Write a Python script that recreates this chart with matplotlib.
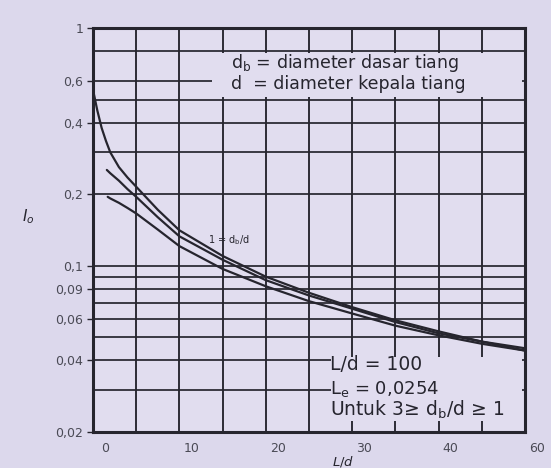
import matplotlib
matplotlib.use("Agg")
import matplotlib.pyplot as plt
from matplotlib.patches import Rectangle
from matplotlib.transforms import ScaledTranslation

# ---- data ----
curve_a_x = [0, 0.5, 1, 1.5, 2, 3, 4, 5, 7.5, 10, 15, 20, 25, 30, 35, 40, 45, 50]
curve_a_y = [0.55, 0.45, 0.38, 0.335, 0.30, 0.26, 0.235, 0.215, 0.172, 0.141, 0.110,
             0.090, 0.077, 0.067, 0.059, 0.053, 0.048, 0.044]
curve_b_x = [1.6, 2, 3, 4, 5, 7.5, 10, 15, 20, 25, 30, 35, 40, 45, 50]
curve_b_y = [0.253, 0.245, 0.228, 0.21, 0.195, 0.16, 0.133, 0.106, 0.087, 0.075,
             0.066, 0.058, 0.052, 0.048, 0.045]
curve_c_x = [1.7, 2, 3, 4, 5, 7.5, 10, 15, 20, 25, 30, 35, 40, 45, 50]
curve_c_y = [0.195, 0.192, 0.184, 0.175, 0.166, 0.142, 0.121, 0.097, 0.082, 0.071,
             0.063, 0.056, 0.051, 0.047, 0.044]

x_ticks = [0, 10, 20, 30, 40, 50]
x_tick_labels = ["0", "10", "20", "30", "40", "60"]
y_ticks = [1, 0.6, 0.4, 0.2, 0.1, 0.08, 0.06, 0.04, 0.02]
y_tick_labels = ["1", "0,6", "0,4", "0,2", "0,1", "0,09", "0,06", "0,04", "0,02"]
grid_y = [0.8, 0.6, 0.5, 0.4, 0.3, 0.2, 0.1, 0.09, 0.08, 0.07, 0.06, 0.05, 0.04, 0.03]
grid_x = [5, 10, 15, 20, 25, 30, 35, 40, 45]

legend_lines = [r"$\mathregular{d_b}$ = diameter dasar tiang",
                "d  = diameter kepala tiang"]
note_lines = ["L/d = 100", r"$\mathregular{L_e}$ = 0,0254",
              r"Untuk 3≥ $\mathregular{d_b}$/d ≥ 1"]
curve_label = r"1 = $\mathregular{d_b}$/d"

bg_fig = "#dcd8ec"
bg_ax = "#e1ddef"
ink = "#26252e"

fig = plt.figure(figsize=(5.51, 4.68), dpi=100, facecolor=bg_fig)
ax = fig.add_axes([93 / 551, 1 - 432 / 468, 432 / 551, 404 / 468])
ax.set_facecolor(bg_ax)
ax.set_yscale("log")
ax.set_xlim(0, 50)
ax.set_ylim(0.02, 1)

for gy in grid_y:
    ax.axhline(gy, color=ink, lw=1.25, zorder=1)
for gx in grid_x:
    ax.axvline(gx, color=ink, lw=1.35, zorder=1)

# blank panels behind the annotations
ax.add_patch(Rectangle((13.8, 0.515), 35.9, 0.27, facecolor=bg_ax,
                       edgecolor="none", zorder=2))
ax.add_patch(Rectangle((27.6, 0.0222), 22.1, 0.0193, facecolor=bg_ax,
                       edgecolor="none", zorder=2))

for xs, ys in [(curve_a_x, curve_a_y), (curve_b_x, curve_b_y), (curve_c_x, curve_c_y)]:
    ax.plot(xs, ys, color=ink, lw=1.6, zorder=4, solid_capstyle="round",
            solid_joinstyle="round")

ax.text(16.0, 0.715, legend_lines[0], fontsize=12.5, color=ink, va="center", zorder=3)
ax.text(16.0, 0.58, legend_lines[1], fontsize=12.5, color=ink, va="center", zorder=3)

ax.text(27.4, 0.0385, note_lines[0], fontsize=13.5, color=ink, va="center", zorder=3)
ax.text(27.4, 0.0302, note_lines[1], fontsize=13, color=ink, va="center", zorder=3)
ax.text(27.4, 0.0247, note_lines[2], fontsize=13.5, color=ink, va="center", zorder=3)

ax.text(13.3, 0.128, curve_label, fontsize=7, color=ink, va="center", zorder=3)

ax.set_xticks(x_ticks)
ax.set_xticklabels(x_tick_labels)
ax.set_yticks(y_ticks)
ax.set_yticklabels(y_tick_labels)
ax.minorticks_off()
ax.tick_params(axis="x", length=0, pad=7, labelsize=9, labelcolor="#4a4a55")
ax.tick_params(axis="y", length=4, width=1, pad=3, labelsize=9, labelcolor="#4a4a55",
               color=ink)
for lab in ax.get_xticklabels():
    lab.set_transform(lab.get_transform() + ScaledTranslation(0.12, 0, fig.dpi_scale_trans))

for sp in ax.spines.values():
    sp.set_linewidth(2.2)
    sp.set_color(ink)
    sp.set_zorder(5)

ax.set_ylabel(r"$I_o$", rotation=0, fontsize=11, color=ink)
ax.yaxis.set_label_coords(-0.15, 0.51)
ax.set_xlabel(r"$L/d$", fontsize=9.5, color=ink)
ax.xaxis.set_label_coords(0.58, -0.055)

fig.savefig("out.png", dpi=100, facecolor=bg_fig)
